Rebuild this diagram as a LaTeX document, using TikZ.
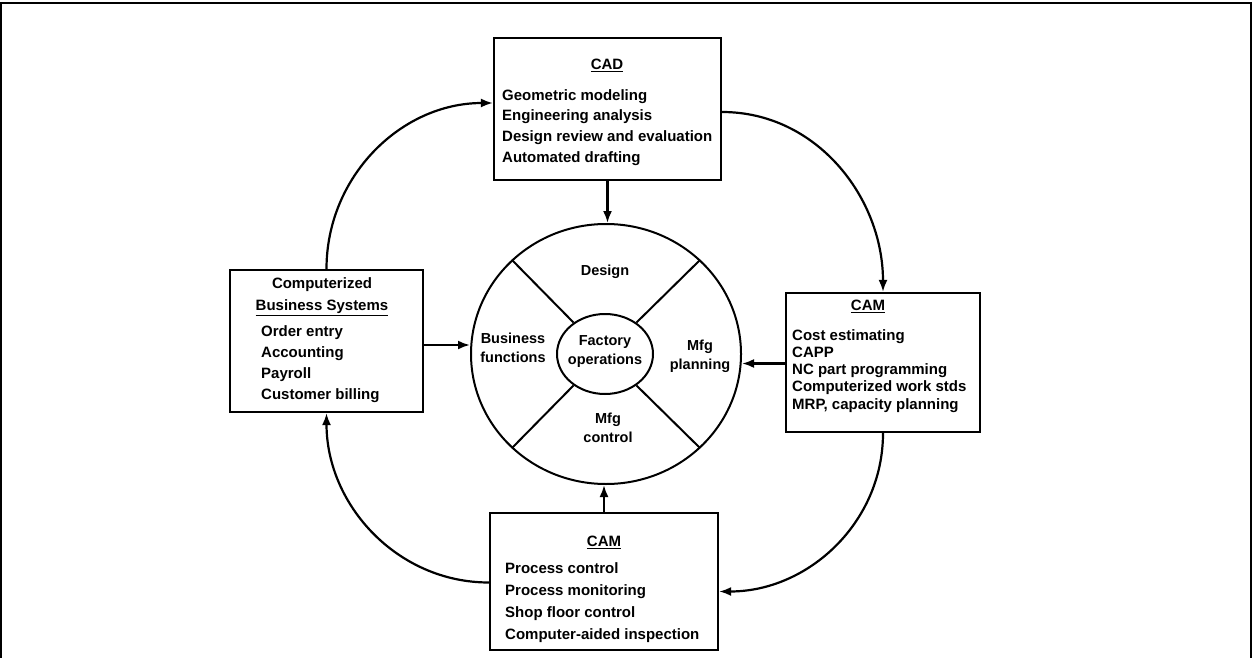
\documentclass[tikz,border=0pt]{standalone}
\usepackage{fontspec}
\setmainfont{Liberation Sans}
\usetikzlibrary{shapes.geometric,arrows.meta,calc}
\begin{document}
\begin{tikzpicture}[x=1pt,y=-1pt,
  box/.style={draw, line width=2.2pt, rectangle, inner sep=0pt},
  ttl/.style={font=\bfseries\fontsize{15}{17}\selectfont, inner sep=1pt},
  items/.style={font=\bfseries\fontsize{15}{#1}\selectfont, align=left, anchor=north west, inner sep=0pt},
  lbl/.style={font=\bfseries\fontsize{14.5}{19}\selectfont, align=center, inner sep=0pt},
  conn/.style={line width=2.2pt, -{Latex[length=12pt,width=9pt]}},
]
\useasboundingbox (0,0) rectangle (1252,658);
\draw[line width=1.5pt] (1,658) -- (1,3) -- (1251,3) -- (1251,658);

% boxes
\node[box, minimum width=227pt, minimum height=142pt] (cad) at (607.5,109) {};
\node[box, minimum width=193pt, minimum height=142pt] (biz) at (326.5,341) {};
\node[box, minimum width=194pt, minimum height=139pt] (plan) at (883,362.5) {};
\node[box, minimum width=228pt, minimum height=137pt] (ctrl) at (604,581.5) {};

% CAD text
\node[ttl] (cadt) at (607,65) {\underline{CAD}};
\node[items=20.7] (cadl) at (502,89) {Geometric modeling\\Engineering analysis\\Design review and evaluation\\Automated drafting};

% Business systems text
\node[ttl, align=center, font=\bfseries\fontsize{15}{22}\selectfont] (bizt) at (322,297) {Computerized\\\underline{Business Systems}};
\node[items=21] (bizl) at (261,325) {Order entry\\Accounting\\Payroll\\Customer billing};

% CAM (planning) text
\node[ttl] (plant) at (868,306) {\underline{CAM}};
\node[items=17.3] (planl) at (792,329) {Cost estimating\\CAPP\\NC part programming\\Computerized work stds\\MRP, capacity planning};

% CAM (control) text
\node[ttl] (ctrlt) at (604,542) {\underline{CAM}};
\node[items=22] (ctrll) at (505,562) {Process control\\Process monitoring\\Shop floor control\\Computer-aided inspection};

% ring
\node[ellipse, draw, line width=2pt, minimum width=270pt, minimum height=260pt, inner sep=0pt] (ring) at (606,354) {};
\node[ellipse, draw, line width=2pt, minimum width=96pt, minimum height=80pt, inner sep=0pt] (core) at (605,354) {};
\foreach \a in {45,135,225,315}{
  \draw[line width=2pt] (core.\a) -- (ring.\a);
}
\node[lbl] (design) at (605,272) {Design};
\node[lbl] (bus) at (513,348) {Business\\functions};
\node[lbl] (fact) at (605,352) {Factory\\operations};
\node[lbl] (mplan) at (700,356) {Mfg\\planning};
\node[lbl] (mctrl) at (608,428) {Mfg\\control};

% straight connectors
\draw[conn] (cad.south) -- (cad.south |- ring.north);
\draw[conn] (ctrl.north) -- (ctrl.north |- ring.south);
\draw[conn] ([yshift=-1pt]plan.west) -- ([yshift=-1pt]plan.west -| ring.east);
\draw[conn] ([yshift=-4pt]biz.west -| biz.east) -- ([yshift=-4pt]biz.west -| ring.west);

% curved connectors
\draw[conn] (biz.north) to[out=90,in=180] ([yshift=6pt]cad.west);
\draw[conn] ([yshift=-3pt]cad.east) to[out=0,in=90] (plan.north);
\draw[conn] (plan.south) to[out=-90,in=0] ([yshift=-10pt]ctrl.east);
\draw[conn] ([yshift=-1pt]ctrl.west) to[out=180,in=-90] (biz.south);
\end{tikzpicture}
\end{document}
